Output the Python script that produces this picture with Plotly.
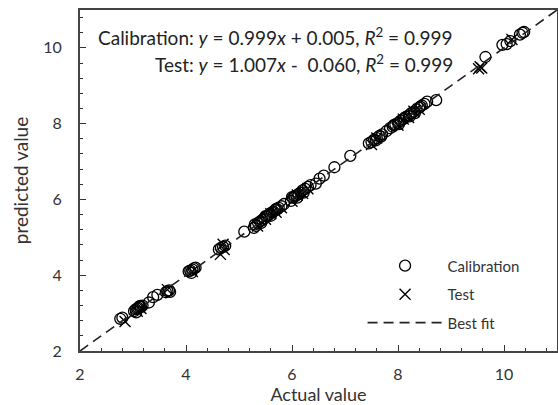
import plotly.graph_objects as go

# Calibration set (actual, predicted)
cal_actual = [2.76, 2.80, 3.02, 3.05, 3.08, 3.10, 3.12, 3.15, 3.18, 3.30, 3.38, 3.46,
              3.62, 3.65, 3.68, 3.70, 4.05, 4.08, 4.12, 4.15, 4.18, 4.62, 4.66, 4.70, 4.74,
              5.10, 5.28, 5.32, 5.36, 5.40, 5.44, 5.48, 5.52, 5.55, 5.58, 5.62, 5.65, 5.68,
              5.72, 5.75, 5.80, 5.85, 5.98, 6.02, 6.05, 6.08, 6.12, 6.16, 6.20, 6.25, 6.30,
              6.35, 6.45, 6.52, 6.60, 6.80, 7.10, 7.45, 7.50, 7.55, 7.60, 7.65, 7.70, 7.78,
              7.85, 7.90, 7.95, 8.00, 8.05, 8.10, 8.15, 8.20, 8.25, 8.30, 8.35, 8.40, 8.45,
              8.50, 8.55, 8.72, 9.65, 9.97, 10.05, 10.12, 10.30, 10.35, 10.38,
              3.06, 3.14, 4.10, 5.30, 5.42, 5.50, 5.60, 5.70, 6.00, 6.10, 6.22, 7.58, 7.68,
              7.92, 8.02, 8.12, 8.22, 8.32, 8.42]
cal_pred = [2.85, 2.88, 3.05, 3.10, 3.12, 3.14, 3.18, 3.16, 3.20, 3.28, 3.42, 3.48,
            3.55, 3.58, 3.60, 3.56, 4.10, 4.12, 4.15, 4.18, 4.20, 4.68, 4.72, 4.75, 4.78,
            5.15, 5.25, 5.30, 5.38, 5.42, 5.46, 5.50, 5.55, 5.58, 5.62, 5.66, 5.68, 5.72,
            5.74, 5.78, 5.82, 5.88, 5.96, 6.04, 6.08, 6.10, 6.14, 6.18, 6.24, 6.28, 6.33,
            6.38, 6.42, 6.55, 6.63, 6.85, 7.15, 7.48, 7.52, 7.58, 7.62, 7.68, 7.72, 7.80,
            7.88, 7.92, 7.98, 8.02, 8.08, 8.12, 8.18, 8.22, 8.28, 8.32, 8.38, 8.42, 8.48,
            8.52, 8.58, 8.62, 9.76, 10.08, 10.10, 10.18, 10.35, 10.40, 10.42,
            3.02, 3.19, 4.06, 5.34, 5.38, 5.56, 5.57, 5.75, 6.06, 6.05, 6.18, 7.56, 7.66,
            7.96, 7.99, 8.15, 8.19, 8.28, 8.45]

# Test set (actual, predicted)
test_actual = [2.85, 3.08, 3.15, 3.65, 4.12, 4.65, 4.70, 4.72, 5.35, 5.50, 5.60, 5.70,
               5.80, 6.00, 6.10, 6.20, 6.30, 7.50, 7.60, 8.00, 8.10, 8.20, 8.30, 8.40,
               9.52, 9.55, 9.58, 10.15]
test_pred = [2.78, 3.05, 3.12, 3.62, 4.10, 4.55, 4.82, 4.68, 5.30, 5.48, 5.62, 5.66,
             5.78, 5.95, 6.12, 6.16, 6.28, 7.45, 7.62, 7.96, 8.12, 8.16, 8.33, 8.38,
             9.45, 9.50, 9.47, 10.22]

fit_x = [2, 11]
fit_y = [2, 11]

cal_text = "Calibration: <i>y</i> = 0.999<i>x</i> + 0.005, <i>R</i><sup>2</sup> = 0.999"
test_text = "Test: <i>y</i> = 1.007<i>x</i> -  0.060, <i>R</i><sup>2</sup> = 0.999"

FONT = "Lato"
fig = go.Figure()
fig.add_trace(go.Scatter(x=cal_actual, y=cal_pred, mode="markers", name="Calibration",
                         legendgroup="a",
                         marker=dict(symbol="circle-open", size=11, color="black",
                                     line=dict(width=1.3, color="black"))))
fig.add_trace(go.Scatter(x=test_actual, y=test_pred, mode="markers", name="Test",
                         legendgroup="b",
                         marker=dict(symbol="x-thin-open", size=11, color="black",
                                     line=dict(width=1.4, color="black"))))
fig.add_trace(go.Scatter(x=fit_x, y=fit_y, mode="lines", name="Best fit",
                         legendgroup="c",
                         line=dict(color="#222222", width=1.6, dash="10px,6px")))

axis_common = dict(range=[2, 11], dtick=2, ticks="inside", ticklen=6, tickwidth=1.2,
                   tickcolor="#333333", showline=True, linecolor="#444444", linewidth=1.8,
                   mirror=True, showgrid=False, zeroline=False, automargin=False,
                   tickfont=dict(family=FONT, size=16, color="#333333"),
                   minor=dict(dtick=0.4, ticks="inside", ticklen=3, tickwidth=1,
                              tickcolor="#333333"))

fig.update_layout(
    width=558, height=405,
    margin=dict(l=80, r=1, t=10, b=54, autoexpand=False),
    paper_bgcolor="white", plot_bgcolor="white",
    font=dict(family=FONT, color="#333333"),
    xaxis=dict(**axis_common, ticklabelstandoff=8,
               title=dict(text="Actual value", font=dict(family=FONT, size=18, color="#333333"),
                          standoff=5)),
    yaxis=dict(**axis_common, ticklabelstandoff=13,
               title=dict(text="predicted value", font=dict(family=FONT, size=19, color="#333333"),
                          standoff=10)),
    legend=dict(x=0.932, y=0.034, xanchor="right", yanchor="bottom",
                font=dict(family=FONT, size=15, color="#333333"),
                bgcolor="rgba(0,0,0,0)", tracegroupgap=6, itemwidth=75),
    showlegend=True,
)

fig.add_annotation(text=cal_text, xref="paper", yref="paper", x=0.786, y=0.921,
                   xanchor="right", yanchor="middle", showarrow=False,
                   font=dict(family=FONT, size=19, color="#222222"))
fig.add_annotation(text=test_text, xref="paper", yref="paper", x=0.786, y=0.844,
                   xanchor="right", yanchor="middle", showarrow=False,
                   font=dict(family=FONT, size=19, color="#222222"))

fig.write_html("out.html", config={"displayModeBar": False},
               post_script="document.body.style.margin='0';")
